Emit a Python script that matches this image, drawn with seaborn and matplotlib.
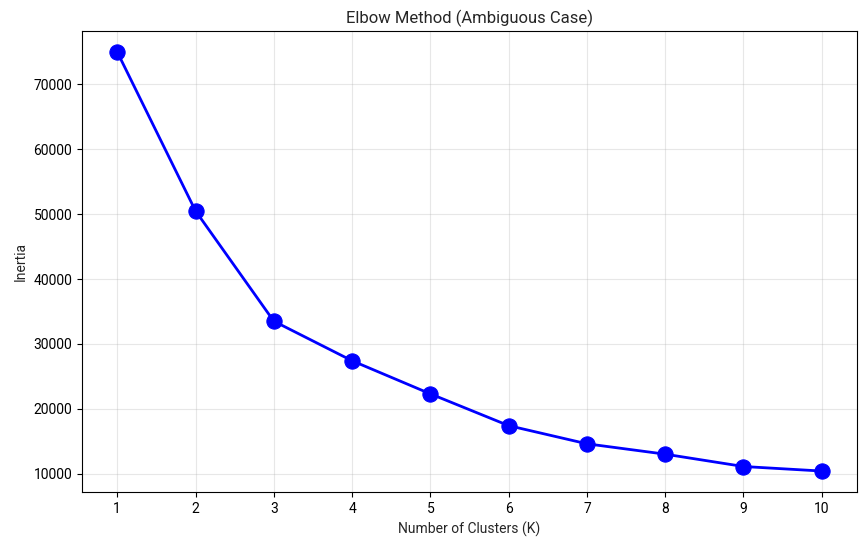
import matplotlib
matplotlib.use("Agg")
import matplotlib.pyplot as plt
import seaborn as sns
import pandas as pd

k_values = [1, 2, 3, 4, 5, 6, 7, 8, 9, 10]
inertia = [75000, 50500, 33500, 27400, 22300, 17400, 14600, 13000, 11100, 10400]

sns.set_style("ticks")
plt.rcParams['font.family'] = ['Roboto', 'DejaVu Sans']

df = pd.DataFrame({"K": k_values, "Inertia": inertia})

fig = plt.figure(figsize=(8.67, 5.44), dpi=100)
ax = fig.add_axes([82/867, 1 - 492/544, (857-82)/867, (492-31)/544])
sns.lineplot(data=df, x="K", y="Inertia", ax=ax, color="blue", linewidth=2,
             marker="o", markersize=11, markeredgecolor="blue")
ax.set_xticks(k_values)
ax.set_title("Elbow Method (Ambiguous Case)", fontsize=12)
ax.set_xlabel("Number of Clusters (K)", fontsize=10)
ax.set_ylabel("Inertia", fontsize=10)
ax.grid(True, alpha=0.3, color="#b0b0b0")
for s in ax.spines.values():
    s.set_visible(True)
    s.set_color("black")
ax.tick_params(colors="black", labelsize=10)
fig.savefig("out.png", dpi=100)
